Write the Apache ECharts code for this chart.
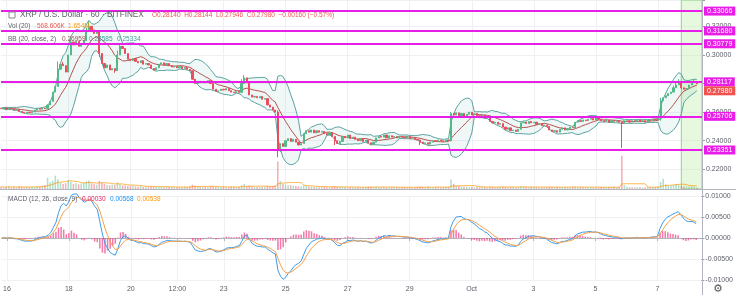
<!DOCTYPE html>
<html><head><meta charset="utf-8">
<script src="https://cdn.jsdelivr.net/npm/echarts@6/dist/echarts.min.js"></script>
<style>html,body{margin:0;padding:0;background:#fff}#c{width:736px;height:295px}</style>
</head><body><div id="c"></div>
<script>
// ---- DATA (2-hour candles, prices x10000) ----
const startOpen = 2628;
const closes = [
2625,2630,2620,2628,2622,2615,2618,
2605,2598,2594,2600,2596,2602,
2615,2625,2620,2628,2624,
2650,2675,
2740,2780,
2900,2935,2925,
2880,
3000,3090,
3070,3095,3060,3080,3100,
3170,3200,
3175,3150,3165,
3010,
2940,2910,2930,2895,2905,
2890,
3000,3060,3045,3010,
2970,2960,2975,
2955,2945,2960,2935,2940,2930,
2905,2895,2910,
2935,2945,2930,2940,2925,
2915,2920,2910,2918,2905,2912,2900,2890,
2830,2800,2815,2805,
2812,2805,2820,2800,
2760,2745,2750,
2760,2755,2765,2750,
2740,2735,2745,2738,
2800,2840,
2805,
2720,2705,2710,
2700,2710,2690,2695,
2650,2635,
2615,2600,
2330,
2380,2360,2400,
2415,2395,2410,2390,
2370,2380,
2450,2470,
2460,2475,2455,2470,2460,
2465,2450,2440,2455,2430,
2400,2380,2395,
2430,2420,2440,2415,2425,
2410,2400,2415,2395,2405,
2385,2375,2390,
2420,2430,2425,2440,2420,2435,2425,2430,2420,2430,
2425,2420,2430,2415,2420,2410,2405,
2390,2380,2385,2375,2390,
2400,2395,2405,2400,2395,2405,2400,
2590,
2580,2595,2575,2590,2570,2585,2600,2580,2590,
2575,2565,2580,2560,2570,
2535,2525,2530,2515,2520,
2495,2480,2490,2470,2475,2465,2480,
2525,2530,2520,2535,2525,
2530,2515,2520,2505,2510,2500,
2475,2465,2470,2460,
2480,2490,2475,2485,2495,2490,
2530,2540,2535,2545,2540,
2550,2555,2545,2560,2550,
2540,2535,2545,2530,2540,2535,
2540,2530,2520,2540,2540,2530,2540,
2535,2545,2535,2540,2530,2545,2540,2550,2545,2555,
2680,
2700,2715,2730,2740,
2770,2790,2815,
2770,2760,2765,
2790,2810,2812,2798
];
const highWicks = {22:2955,24:2950,27:3110,33:3190,34:3235,35:3200,45:3030,46:3075,93:2830,94:2860,107:2612,174:2600,255:2700,260:2785,261:2810,262:2830,268:2825};
const lowWicks = {38:2985,44:2875,107:2285,108:2320,129:2370,162:2370,174:2395,240:2350,255:2540,263:2760};
const volumes = [
1.2,0.9,1.0,1.4,0.8,1.1,0.9,1.3,1.0,0.8,
1.1,0.9,1.2,1.0,1.5,1.3,1.8,2.0,5.8,3.5,
4.2,6.8,5.0,3.2,2.5,3.0,4.6,3.8,2.6,3.0,
2.4,2.8,3.1,3.9,4.4,3.0,2.5,2.2,4.1,3.3,
2.6,2.0,1.8,2.2,2.0,3.5,2.4,1.9,1.6,1.5,
1.4,1.7,1.3,1.2,1.5,1.1,1.3,1.0,1.4,1.2,
1.1,1.0,1.3,0.9,1.2,1.0,0.9,1.1,0.8,1.0,
0.9,1.2,1.0,1.4,2.2,1.8,1.3,1.1,1.0,1.2,
0.9,1.5,1.3,1.1,1.0,0.9,1.2,1.0,0.8,1.1,
1.0,0.9,1.2,2.0,2.6,1.5,1.8,1.3,1.1,1.0,
1.2,1.0,1.3,1.6,1.4,1.5,1.8,14.0,4.0,2.6,
2.2,1.9,2.0,1.6,1.5,1.4,1.3,1.8,1.6,1.3,
1.2,1.0,1.1,0.9,1.0,1.2,0.9,0.8,1.3,1.5,
1.2,1.0,1.1,0.9,0.8,1.0,0.9,0.8,1.0,0.9,
0.8,1.0,1.2,1.1,0.9,1.3,1.0,0.9,1.1,0.8,
0.9,0.8,1.0,0.9,0.8,0.9,1.0,0.8,0.9,0.7,
0.8,1.1,1.3,1.0,0.9,1.2,0.9,0.8,1.0,0.9,
0.8,0.9,1.0,1.1,4.8,2.6,1.8,1.5,1.3,1.1,
1.2,1.0,1.1,0.9,1.0,0.9,1.1,1.0,0.8,1.2,
1.1,0.9,1.0,1.3,1.2,1.0,0.9,1.1,1.0,0.8,
1.0,1.4,1.2,1.0,0.9,1.1,0.9,1.0,0.8,0.9,
1.0,0.9,1.2,1.0,0.9,1.1,1.0,0.9,0.8,1.0,
0.9,1.1,1.3,1.0,0.9,1.0,0.8,0.9,1.0,0.8,
0.9,0.8,1.0,0.9,0.8,1.0,0.9,1.1,0.9,1.0,
17.0,2.0,1.1,0.9,1.0,0.8,0.9,1.0,0.8,0.9,
1.0,0.9,0.8,1.0,1.2,3.6,5.2,2.4,1.8,1.6,
2.0,2.6,2.2,1.6,1.4,1.2,1.3,1.5,1.2,0.6
];
const levels = [0.33066,0.31680,0.30779,0.28117,0.25706,0.23351];
const lastPrice = 0.27980;
const dayLabels = {2:'16',26:'18',50:'20',68:'12:00',86:'23',110:'25',134:'27',158:'29',182:'Oct',206:'3',230:'5',254:'7'};
const NCAT = 272;
const highlightRange = [263, 271];

// ---- build ----
const cats = Array.from({length:NCAT},(_,i)=>String(i));
const opens = closes.map((c,i)=> i===0 ? startOpen : closes[i-1]);
const candles = closes.map((c,i)=>{
  const o = opens[i];
  const h = Math.max(o,c,highWicks[i]||0);
  const l = Math.min(o,c,lowWicks[i]||Infinity);
  return [o/1e4,c/1e4,l/1e4,h/1e4];
});
const px = closes.map(v=>v/1e4);
const P = 10;
const basis=[],lower=[],diff=[];
px.forEach((v,i)=>{
  const w = px.slice(Math.max(0,i-P+1),i+1);
  const m = w.reduce((a,b)=>a+b,0)/w.length;
  const sd = Math.sqrt(w.reduce((a,b)=>a+(b-m)*(b-m),0)/w.length);
  basis.push(m); lower.push(m-2*sd); diff.push(4*sd);
});
function ema(arr,n){const a=2/(n+1);let e=arr[0];return arr.map((v,i)=>i===0?e:(e=a*v+(1-a)*e));}
const e1=ema(px,6), e2=ema(px,13);
const macd = e1.map((v,i)=>v-e2[i]);
const signal = ema(macd,4.5);
const hist = macd.map((v,i)=>v-signal[i]);
const volMA = volumes.map((v,i)=>{const w=volumes.slice(Math.max(0,i-P+1),i+1);return w.reduce((a,b)=>a+b,0)/w.length;});
const volData = volumes.map((v,i)=>({value:v,itemStyle:{color: closes[i]>=opens[i] ? 'rgba(83,185,135,0.45)' : 'rgba(235,77,92,0.45)'}}));

const isLab = (idx)=>Object.prototype.hasOwnProperty.call(dayLabels, idx);
const FONT = '"Liberation Sans", Arial, sans-serif';
const grid = '#eef0f3';
const MAG = '#e81ee8';
const GRAY = '#5d606b';

function txt(t,x,y,c,fs){return {type:'text',x:x,y:y,z:100,style:{text:t,fill:c,fontSize:fs||6.5,fontFamily:FONT,verticalAlign:'middle'}};}
function ln(x1,y1,x2,y2,c){return {type:'line',z:90,shape:{x1,y1,x2,y2},style:{stroke:c,lineWidth:1}};}

const chart = echarts.init(document.getElementById('c'));
chart.setOption({
  animation:false,
  backgroundColor:'#fff',
  grid:[
    {left:1,right:34,top:0,height:189},
    {left:1,right:34,top:140,height:49},
    {left:1,right:34,top:196,height:84}
  ],
  xAxis:[
    {gridIndex:0,type:'category',data:cats,boundaryGap:false,axisLine:{show:false},axisTick:{show:false},axisLabel:{show:false},splitLine:{show:true,interval:isLab,lineStyle:{color:grid}}},
    {gridIndex:1,type:'category',data:cats,boundaryGap:false,show:false},
    {gridIndex:2,type:'category',data:cats,boundaryGap:false,offset:3,
      axisLine:{show:true,lineStyle:{color:'#b2b5be'}},
      axisTick:{show:true,interval:isLab,length:3,lineStyle:{color:'#b2b5be'}},
      axisLabel:{interval:isLab,formatter:(v)=>dayLabels[v]||'',fontSize:7,color:GRAY,margin:3,fontFamily:FONT},
      splitLine:{show:true,interval:isLab,lineStyle:{color:grid}}}
  ],
  yAxis:[
    {gridIndex:0,type:'value',position:'right',min:0.20624,max:0.33841,splitNumber:7,
      axisLine:{show:false},axisTick:{show:true,length:3,lineStyle:{color:'#9598a1'}},
      axisLabel:{fontSize:7,color:GRAY,margin:4,fontFamily:FONT,formatter:v=>Math.abs(v*50-Math.round(v*50))<1e-6?v.toFixed(5):''},
      splitLine:{lineStyle:{color:grid}}},
    {gridIndex:1,type:'value',min:0,max:25,show:false},
    {gridIndex:2,type:'value',position:'right',min:-0.01,max:0.01,interval:0.005,
      axisLine:{show:false},axisTick:{show:true,length:3,lineStyle:{color:'#9598a1'}},
      axisLabel:{fontSize:7,color:GRAY,margin:4,fontFamily:FONT,formatter:v=>v.toFixed(5)},
      splitLine:{lineStyle:{color:grid}}}
  ],
  series:[
    {type:'line',xAxisIndex:0,yAxisIndex:0,data:lower,stack:'bb',symbol:'none',lineStyle:{color:'#5aa3a0',width:1},z:2},
    {type:'line',xAxisIndex:0,yAxisIndex:0,data:diff,stack:'bb',symbol:'none',lineStyle:{color:'#5aa3a0',width:1},areaStyle:{color:'rgba(40,140,140,0.10)'},z:2},
    {type:'line',xAxisIndex:0,yAxisIndex:0,data:basis,symbol:'none',lineStyle:{color:'#b5524e',width:1},z:2},
    {type:'candlestick',xAxisIndex:0,yAxisIndex:0,data:candles,barWidth:'65%',z:3,
      itemStyle:{color:'#53b987',color0:'#eb4d5c',borderColor:'#53b987',borderColor0:'#eb4d5c',borderWidth:1},
      markArea:{silent:true,itemStyle:{color:'rgba(200,240,180,0.45)',borderColor:'#93d28a',borderWidth:1},data:[[{xAxis:highlightRange[0]},{xAxis:highlightRange[1]}]]},
      markLine:{silent:true,symbol:'none',animation:false,precision:5,
        lineStyle:{color:MAG,width:2,type:'solid'},
        label:{position:'end',distance:2,backgroundColor:MAG,color:'#fff',fontSize:7,fontFamily:FONT,padding:[1,3,1,3],formatter:p=>Number(p.value).toFixed(5)},
        data: levels.map(v=>({yAxis:v})).concat([{yAxis:lastPrice,lineStyle:{color:'rgba(0,0,0,0)',width:0},label:{show:true,position:'end',backgroundColor:'#ef5350',color:'#fff',offset:[0,7]}}])
      }},
    {type:'bar',xAxisIndex:1,yAxisIndex:1,data:volData,barWidth:'60%',z:1},
    {type:'line',xAxisIndex:1,yAxisIndex:1,data:volMA,symbol:'none',lineStyle:{color:'#ff9800',width:1,opacity:0.7},z:1},
    {type:'bar',xAxisIndex:2,yAxisIndex:2,data:hist,barWidth:'60%',itemStyle:{color:'rgba(236,80,140,0.75)'},z:2},
    {type:'line',xAxisIndex:2,yAxisIndex:2,data:macd,symbol:'none',clip:false,lineStyle:{color:'#3d9be9',width:1},z:3},
    {type:'line',xAxisIndex:2,yAxisIndex:2,data:signal,symbol:'none',clip:false,lineStyle:{color:'#f5a04a',width:1},z:3}
  ],
  graphic:[
    ln(0,189.5,736,189.5,'#b2b5be'),
    ln(702.5,0,702.5,295,'#b2b5be'),
    {type:'rect',z:100,shape:{x:9,y:12,width:6,height:6},style:{fill:'none',stroke:'#888',lineWidth:1}},
    txt('XRP / U.S. Dollar · 60 · BITFINEX',20,15,GRAY,8.2),
    txt('O0.28140  H0.28144  L0.27946  C0.27980  −0.00160 (−0.57%)',152,15,'#ef5350'),
    txt('Vol (20)',8,26,GRAY),
    txt('568.606K',37,26,'#ef5350'),
    txt('1.654M',68,26,'#ff9800'),
    txt('BB (20, close, 2)',8,39.5,GRAY),
    txt('0.26959',62,39.5,'#a0524e'),
    txt('0.28585',89,39.5,'#3d9a9a'),
    txt('0.25334',117,39.5,'#3d9a9a'),
    txt('MACD (12, 26, close, 9)',8,199.5,GRAY),
    txt('0.00030',82,199.5,'#e91e63'),
    txt('0.00568',110,199.5,'#2196f3'),
    txt('0.00538',137,199.5,'#ff9800'),
    {type:'text',x:713,y:289,z:100,style:{text:'⚙',fill:'#555',fontSize:11,fontFamily:'DejaVu Sans',verticalAlign:'middle'}}
  ]
});
</script>
</body></html>
